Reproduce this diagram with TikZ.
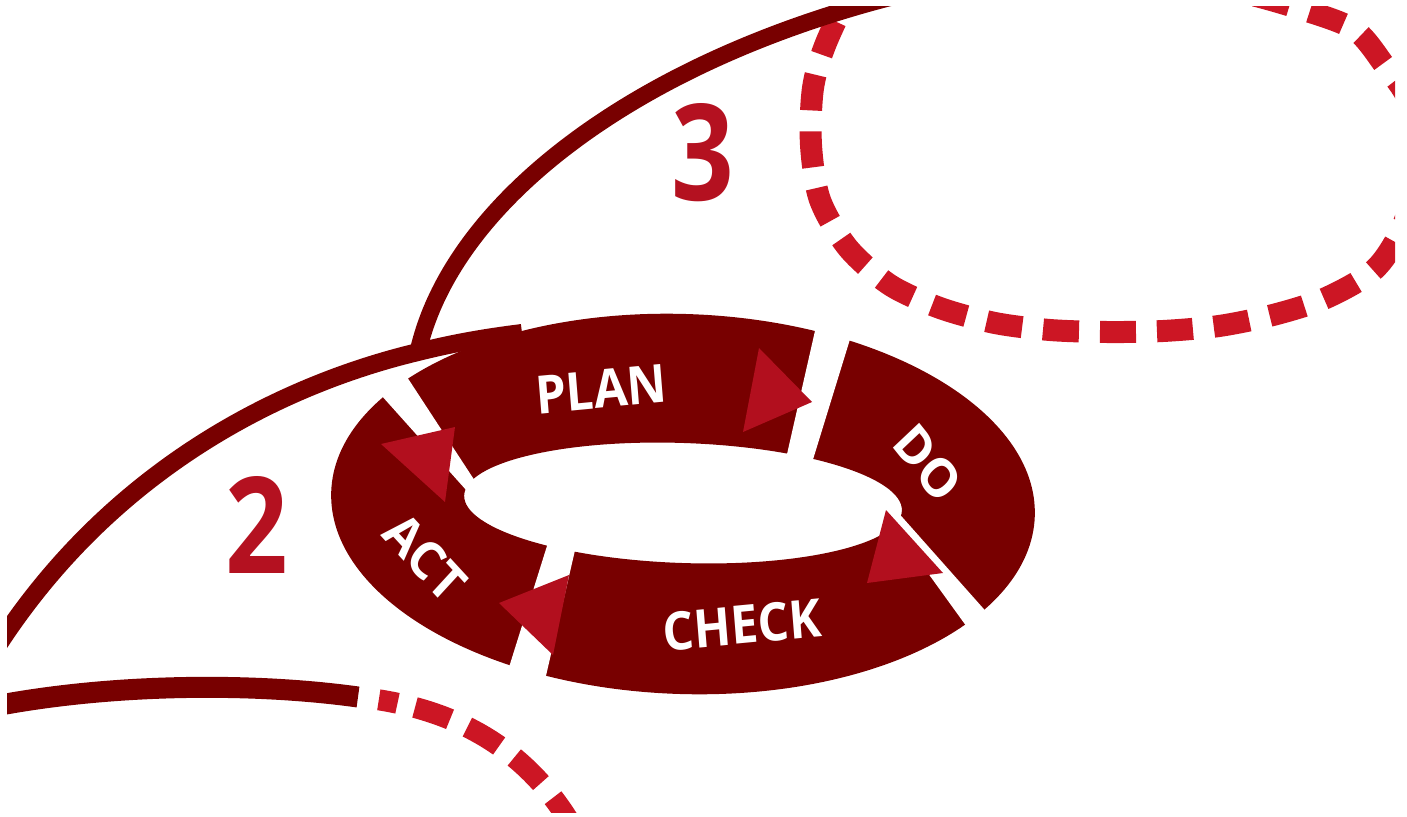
\documentclass[tikz,border=0pt]{standalone}
\usepackage{fontspec}
\setmainfont{Open Sans}
\usepackage{tikz}

\definecolor{pdcadark}{RGB}{120,0,0}
\definecolor{pdcatip}{RGB}{178,15,30}
\definecolor{pdcanum}{RGB}{180,17,32}
\definecolor{pdcadash}{RGB}{204,22,36}

\begin{document}
\begin{tikzpicture}[x=1pt,y=-1pt,
    band/.style={fill=pdcadark},
    cut/.style={fill=white},
    pointer/.style={fill=pdcatip},
    track/.style={draw=pdcadark,line width=18pt},
    trail/.style={draw=pdcadash,line width=22pt},
    phase/.style={text=white,inner sep=0pt,xscale=0.92,font=\bfseries\fontsize{53pt}{53pt}\selectfont},
    count/.style={text=pdcanum,inner sep=0pt,xscale=0.82,font=\bfseries\fontsize{134pt}{134pt}\selectfont}]
      \useasboundingbox (0,0) rectangle (1407,816);
      \clip (7,7) rectangle (1395,812);

      \draw[trail,dash pattern=on 36pt off 21pt] plot[smooth] coordinates {(860,-30) (826,43) (813,88) (811,145) (820,200) (848,248) (890,285) (940,308) (995,323) (1050,330) (1107,332) (1163,331) (1219,326) (1273,315) (1326,298) (1375,269) (1403,225) (1420,160) (1408,100) (1385,66) (1355,30) (1304,10) (1240,-8) (1150,-25)};

      \begin{scope}[rotate around={-2:(683,504)}]
        \fill[band,even odd rule] (683,504) ellipse [x radius=352pt,y radius=190pt]
                                  (683,503) ellipse [x radius=219pt,y radius=60pt];
      \end{scope}
      \fill[cut] (822,300) -- (859,310) -- (803,492) -- (780,485) -- cycle;
      \fill[cut] (879,491) -- (1006,634) -- (985,652) -- (865,486) -- cycle;
      \fill[cut] (582,520) -- (539,706) -- (500,696) -- (557,514) -- cycle;
      \fill[cut] (392,354) -- (490,504) -- (484,510) -- (364,376) -- cycle;

      \coordinate (hub) at (418,352);
      \coordinate (rim) at (522,333);
      \draw[track] (-5,650) .. controls (110,470) and (280,385) .. (hub)
                   .. controls (458,342) and (490,337) .. (rim);
      \draw[track,line width=17pt] (hub) .. controls (452,200) and (640,60) .. (900,-5);

      \fill[pointer] (759,348) -- (812,402) -- (743,432) -- cycle;
      \fill[pointer] (886,510) -- (943,573) -- (867,583) -- cycle;
      \fill[pointer] (569,575) -- (553,655) -- (499,603) -- cycle;
      \fill[pointer] (455,427) -- (445,502) -- (381,444) -- cycle;

      \node[phase,rotate=5] (plan) at (601,389) {PLAN};
      \node[phase,rotate=-49] (do) at (928,463) {DO};
      \node[phase,rotate=5] (check) at (742,625) {CHECK};
      \node[phase,rotate=-45] (act) at (425,557) {ACT};

      \coordinate (wayend) at (358,697);
      \draw[track,line width=21pt] (-5,706) .. controls (110,684) and (250,682) .. (wayend);
      \draw[trail,line width=21pt,dash pattern=on 0pt off 21pt on 19pt off 18pt on 37pt off 19pt on 37pt off 19pt on 37pt off 19pt on 37pt off 19pt]
            (wayend) .. controls (450,707) and (530,745) .. (580,840);

      \node[count] (two) at (257,525) {2};
      \node[count] (three) at (703,153) {3};
   \end{tikzpicture}
\end{document}
